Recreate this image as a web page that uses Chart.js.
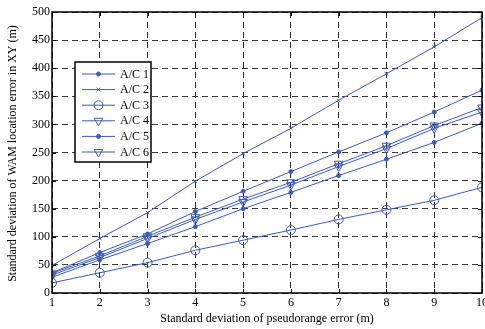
<!DOCTYPE html>
<html>
<head>
<meta charset="utf-8">
<script src="https://cdn.jsdelivr.net/npm/chart.js@4.4.1/dist/chart.umd.min.js"></script>
<style>
  html, body { margin: 0; padding: 0; background: #fff; }
  #wrap { width: 485px; height: 329px; position: relative; }
</style>
</head>
<body>
<div id="wrap"><canvas id="wamChart"></canvas></div>
<script>
// pseudorange error std (m)
const xValues = [1, 2, 3, 4, 5, 6, 7, 8, 9, 10];

// WAM location error std in XY (m)
const ac1 = [36, 72, 105, 145, 181, 216, 251, 285, 322, 361];
const ac2 = [49, 97, 143, 199, 248, 293, 343, 390, 438, 490];
const ac3 = [18, 36, 54, 76, 94, 112, 131, 148, 165, 188];
const ac4 = [35, 66, 101, 135, 167, 197, 230, 262, 298, 330];
const ac5 = [28, 59, 88, 118, 150, 179, 209, 238, 268, 302];
const ac6 = [32, 63, 97, 131, 162, 192, 225, 257, 293, 322];

const seriesNames = ['A/C 1', 'A/C 2', 'A/C 3', 'A/C 4', 'A/C 5', 'A/C 6'];
const seriesValues = [ac1, ac2, ac3, ac4, ac5, ac6];

const xTicks = [1, 2, 3, 4, 5, 6, 7, 8, 9, 10];
const yTicks = [0, 50, 100, 150, 200, 250, 300, 350, 400, 450, 500];

const xTitle = 'Standard deviation of pseudorange error (m)';
const yTitle = 'Standard deviation of WAM location error in XY (m)';

const blue = '#3b5cb8';
const serif = "'Liberation Serif', 'DejaVu Serif', serif";

// marker look for each aircraft
const markers = [
  { style: 'circle', radius: 2, fill: blue, rotation: 0 },
  { style: 'crossRot', radius: 2.5, fill: blue, rotation: 0 },
  { style: 'circle', radius: 4.5, fill: 'rgba(0,0,0,0)', rotation: 0 },
  { style: 'triangle', radius: 5, fill: 'rgba(0,0,0,0)', rotation: 180 },
  { style: 'circle', radius: 2, fill: blue, rotation: 0 },
  { style: 'triangle', radius: 5, fill: 'rgba(0,0,0,0)', rotation: 180 }
];

const datasets = seriesNames.map((name, i) => ({
  label: name,
  data: xValues.map((x, j) => ({ x: x, y: seriesValues[i][j] })),
  borderColor: blue,
  borderWidth: 1,
  backgroundColor: markers[i].fill,
  pointStyle: markers[i].style,
  pointRadius: markers[i].radius,
  pointRotation: markers[i].rotation,
  pointBorderColor: blue,
  pointBackgroundColor: markers[i].fill,
  pointBorderWidth: 1,
  tension: 0,
  fill: false
}));

// frame, inward ticks, x labels, titles and the boxed legend, matlab style
const framePlugin = {
  id: 'framePlugin',
  afterDraw(chart) {
    const ctx = chart.ctx;
    const area = chart.chartArea;
    const xs = chart.scales.x;
    const ys = chart.scales.y;
    ctx.save();

    // tick marks pointing inward
    ctx.strokeStyle = '#000';
    ctx.lineWidth = 1;
    ctx.beginPath();
    xTicks.forEach(v => {
      const px = Math.round(xs.getPixelForValue(v)) + 0.5;
      ctx.moveTo(px, area.bottom); ctx.lineTo(px, area.bottom - 4);
      ctx.moveTo(px, area.top); ctx.lineTo(px, area.top + 4);
    });
    yTicks.forEach(v => {
      const py = Math.round(ys.getPixelForValue(v)) + 0.5;
      ctx.moveTo(area.left, py); ctx.lineTo(area.left + 4, py);
      ctx.moveTo(area.right, py); ctx.lineTo(area.right - 4, py);
    });
    ctx.stroke();

    // box
    ctx.lineWidth = 1.5;
    ctx.strokeRect(area.left, area.top, area.right - area.left, area.bottom - area.top);

    // x tick labels (drawn here so the last one may run off the canvas)
    ctx.fillStyle = '#000';
    ctx.font = '12px ' + serif;
    ctx.textAlign = 'center';
    ctx.textBaseline = 'top';
    xTicks.forEach(v => {
      ctx.fillText(String(v), xs.getPixelForValue(v), area.bottom + 4);
    });

    // axis titles
    ctx.textBaseline = 'middle';
    ctx.fillText(xTitle, (area.left + area.right) / 2, 319);
    ctx.translate(13, (area.top + area.bottom) / 2 + 1);
    ctx.rotate(-Math.PI / 2);
    ctx.fillText(yTitle, 0, 0);
    ctx.setTransform(1, 0, 0, 1, 0, 0);

    // legend
    const lx = 75, ly = 62, lw = 76, lh = 100;
    ctx.fillStyle = '#fff';
    ctx.fillRect(lx, ly, lw, lh);
    ctx.strokeStyle = '#000';
    ctx.lineWidth = 1.5;
    ctx.strokeRect(lx, ly, lw, lh);
    seriesNames.forEach((name, i) => {
      const y = 74 + i * 15.6;
      ctx.strokeStyle = blue;
      ctx.lineWidth = 1;
      ctx.beginPath();
      ctx.moveTo(82, y); ctx.lineTo(115, y);
      ctx.stroke();
      ctx.fillStyle = markers[i].fill;
      ctx.strokeStyle = blue;
      Chart.helpers.drawPoint(ctx, {
        pointStyle: markers[i].style,
        radius: markers[i].radius,
        rotation: markers[i].rotation,
        borderWidth: 1
      }, 98.5, y);
      ctx.fillStyle = '#000';
      ctx.font = '12px ' + serif;
      ctx.textAlign = 'left';
      ctx.textBaseline = 'middle';
      ctx.fillText(name, 120, y + 0.5);
    });

    ctx.restore();
  }
};

const ctx = document.getElementById('wamChart').getContext('2d');
const wamChart = new Chart(ctx, {
  type: 'line',
  data: { datasets: datasets },
  options: {
    responsive: true,
    maintainAspectRatio: false,
    devicePixelRatio: 1,
    animation: false,
    layout: { autoPadding: false, padding: { top: 12, right: 3, left: 0, bottom: 0 } },
    plugins: {
      legend: { display: false },
      tooltip: { enabled: false }
    },
    scales: {
      x: {
        type: 'linear',
        min: 1,
        max: 10,
        afterFit: s => { s.height = 36; },
        afterBuildTicks: s => { s.ticks = xTicks.map(v => ({ value: v })); },
        ticks: { display: false },
        grid: { color: '#2a2a2a', lineWidth: 1, drawTicks: false },
        border: { display: false, dash: [6, 4] }
      },
      y: {
        type: 'linear',
        min: 0,
        max: 500,
        afterFit: s => { s.width = 52; },
        afterBuildTicks: s => { s.ticks = yTicks.map(v => ({ value: v })); },
        ticks: {
          color: '#000',
          font: { family: serif, size: 12 },
          padding: 2,
          autoSkip: false
        },
        grid: { color: '#3a3a3a', lineWidth: 1, drawTicks: false },
        border: { display: false, dash: [6, 4] }
      }
    }
  },
  plugins: [framePlugin]
});
</script>
</body>
</html>
